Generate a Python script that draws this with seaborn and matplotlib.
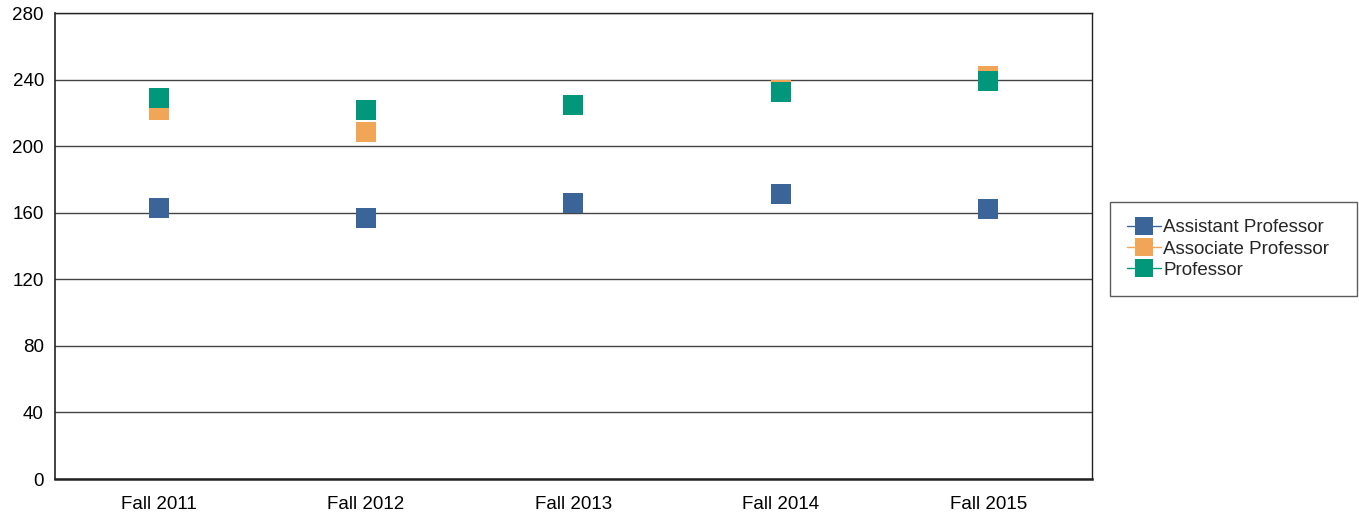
import pandas as pd
import seaborn as sns
import matplotlib.pyplot as plt
from matplotlib.lines import Line2D

terms = ['Fall 2011', 'Fall 2012', 'Fall 2013', 'Fall 2014', 'Fall 2015']
assistant = [163, 157, 166, 171, 162]
associate = [221.5, 208.5, 224.5, 233.5, 242]
professor = [228.7, 221.7, 224.8, 232.8, 238.9]

ranks = ['Assistant Professor', 'Associate Professor', 'Professor']
colors = ['#3b6598', '#f0a557', '#00977a']

rows = []
for rank, vals in zip(ranks, [assistant, associate, professor]):
    for t, v in zip(terms, vals):
        rows.append({'term': t, 'rank': rank, 'salary': v})
df = pd.DataFrame(rows)

sns.set_theme(style='white')
plt.rcParams['font.family'] = ['Liberation Sans', 'DejaVu Sans']

fig = plt.figure(figsize=(13.59, 5.14), dpi=100)
ax = fig.add_axes([0.0405, 0.068, 0.763, 0.9067])

for rank, c in zip(ranks, colors):
    sub = df[df['rank'] == rank]
    sns.scatterplot(data=sub, x='term', y='salary', color=c, marker='s',
                    s=195, linewidth=0, ax=ax, legend=False, zorder=3)

ax.set_xlim(-0.5, 4.5)
ax.set_ylim(0, 280)
ax.set_yticks(range(0, 281, 40))
ax.yaxis.grid(True, color='#444444', linewidth=1)
ax.set_axisbelow(True)
ax.set_xlabel('')
ax.set_ylabel('')
for s in ax.spines.values():
    s.set_color('#222222')
    s.set_linewidth(1)
ax.spines['bottom'].set_linewidth(1.8)
ax.spines['left'].set_linewidth(1.2)
ax.tick_params(axis='x', labelsize=13.5, colors='black', length=0, pad=12)
ax.tick_params(axis='y', labelsize=13.5, colors='black', length=4,
               color='#222222', pad=4)

handles = [Line2D([0], [0], color=c, marker='s', markersize=12.5, linewidth=1,
                  markeredgewidth=0) for c in colors]
leg = fig.legend(handles, ranks, loc='center left',
                 bbox_to_anchor=(0.8168, 0.420, 0.1815, 0.191), mode='expand',
                 fontsize=13.5, frameon=True, fancybox=False, handlelength=1.8,
                 handletextpad=0.15, labelspacing=0.22, borderpad=0.9,
                 borderaxespad=0)
leg.get_frame().set_edgecolor('#333333')
leg.get_frame().set_linewidth(1)

fig.savefig('out.png', dpi=100)
